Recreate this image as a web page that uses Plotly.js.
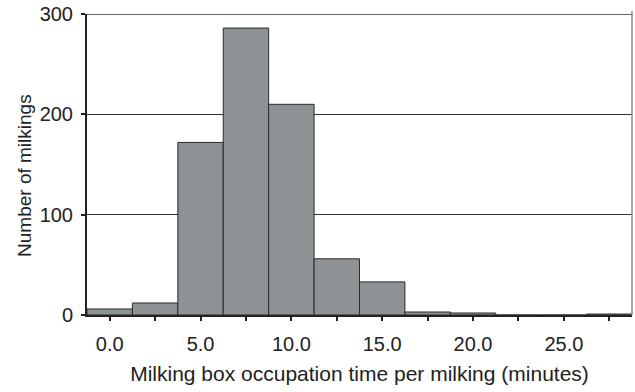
<!DOCTYPE html>
<html>
<head>
<meta charset="utf-8">
<script src="https://cdn.plot.ly/plotly-3.0.1.min.js"></script>
<style>html,body{margin:0;padding:0;background:#fff;}#chart{width:635px;height:392px;}</style>
</head>
<body>
<div id="chart"></div>
<script>
// Bin centres (minutes) and counts
const binCenters = [0, 2.5, 5, 7.5, 10, 12.5, 15, 17.5, 20, 22.5, 25, 27.5];
const counts = [6, 12, 172, 286, 210, 56, 33, 3, 2, 0, 0, 1];
const xTickVals = [0, 5, 10, 15, 20, 25];
const xTickText = ["0.0", "5.0", "10.0", "15.0", "20.0", "25.0"];
const xMinorTicks = [2.5, 7.5, 12.5, 17.5, 22.5, 27.5];
const yTickVals = [0, 100, 200, 300];

const font = "Liberation Sans, Arial, sans-serif";

const trace = {
  type: "bar",
  x: binCenters,
  y: counts,
  width: 2.5,
  marker: { color: "#8d9395", line: { color: "#2b2b2b", width: 1 } },
  hoverinfo: "x+y"
};

const layout = {
  width: 635, height: 392,
  margin: { l: 87, r: 3, t: 14, b: 77 },
  paper_bgcolor: "#fff", plot_bgcolor: "#fff",
  showlegend: false,
  bargap: 0,
  font: { family: font, color: "#222" },
  xaxis: {
    range: [-1.25, 28.75],
    tickvals: xTickVals, ticktext: xTickText,
    ticks: "outside", ticklen: 4, tickwidth: 2, tickcolor: "#222",
    minor: { tickvals: xMinorTicks, ticks: "outside", ticklen: 4, tickwidth: 2, tickcolor: "#222" },
    showgrid: false, zeroline: false,
    showline: true, linecolor: "#222", linewidth: 2,
    tickfont: { size: 20, family: font, color: "#222" },
    ticklabelstandoff: 6,
    title: { text: "Milking box occupation time per milking (minutes)", font: { size: 21, family: font, color: "#222" }, standoff: 12 }
  },
  yaxis: {
    range: [0, 300],
    tickvals: yTickVals,
    ticks: "outside", ticklen: 4, tickwidth: 2, tickcolor: "#222",
    showgrid: true, gridcolor: "#333", gridwidth: 1.3,
    zeroline: false,
    showline: true, linecolor: "#222", linewidth: 2,
    tickfont: { size: 20, family: font, color: "#222" },
    ticklabelstandoff: 4
  },
  annotations: [
    { text: "Number of milkings", xref: "paper", yref: "paper", x: 0, y: 0.462,
      xanchor: "center", yanchor: "middle", xshift: -62, textangle: -90, showarrow: false,
      font: { size: 19, family: font, color: "#222" } }
  ],
  shapes: [
    { type: "line", xref: "paper", yref: "y", x0: 0, x1: 1, y0: 300, y1: 300, line: { color: "#333", width: 1.5 } },
    { type: "line", xref: "paper", yref: "paper", x0: 1, x1: 1, y0: 0, y1: 1.01, line: { color: "#888", width: 1.5 } }
  ]
};

Plotly.newPlot("chart", [trace], layout, { displayModeBar: false, staticPlot: true });
</script>
</body>
</html>
